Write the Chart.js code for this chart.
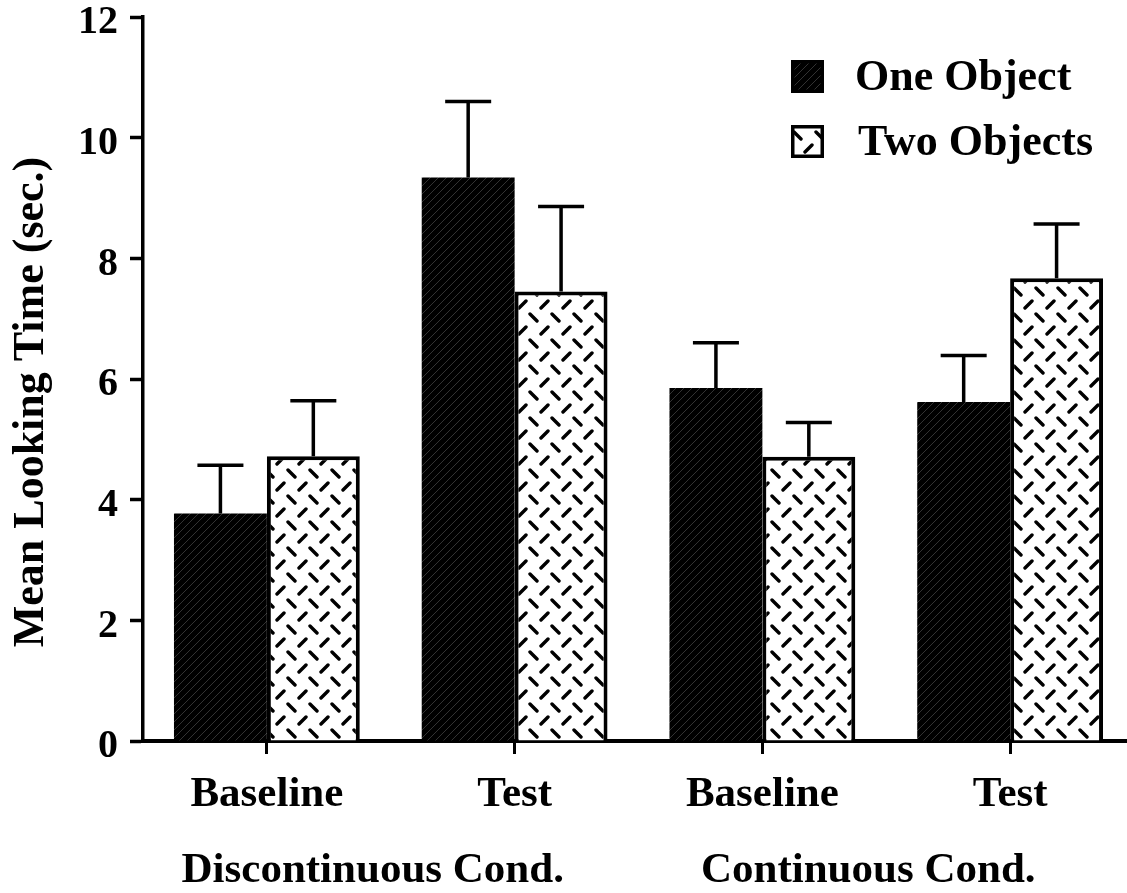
<!DOCTYPE html>
<html>
<head>
<meta charset="utf-8">
<script src="https://cdn.jsdelivr.net/npm/chart.js@4.4.0/dist/chart.umd.min.js"></script>
<style>
  html, body { margin: 0; padding: 0; background: #fff; overflow: hidden; }
  #wrap { width: 1140px; height: 893px; }
</style>
</head>
<body>
<div id="wrap"><canvas id="lookingChart" width="1140" height="893"></canvas></div>
<script>
// Data
const categories = ['Baseline', 'Test', 'Baseline', 'Test'];
const groupLabels = ['Discontinuous Cond.', 'Continuous Cond.'];
const oneObject = [3.77, 9.34, 5.85, 5.62];
const twoObjects = [4.72, 7.45, 4.71, 7.67];
// upper standard error (drawn above each bar)
const oneObjectErr = [0.80, 1.26, 0.75, 0.77];
const twoObjectsErr = [0.92, 1.41, 0.57, 0.90];
const yTicks = [0, 2, 4, 6, 8, 10, 12];

const serif = "'Liberation Serif', 'Times New Roman', serif";

// dark hatch used for the "One Object" bars
function makeDarkHatch() {
  const c = document.createElement('canvas');
  c.width = 8; c.height = 8;
  const g = c.getContext('2d');
  g.fillStyle = '#000';
  g.fillRect(0, 0, 8, 8);
  g.strokeStyle = '#333';
  g.lineWidth = 1;
  g.beginPath();
  g.moveTo(0, 8); g.lineTo(8, 0);
  g.stroke();
  return g.createPattern(c, 'repeat');
}

// white fill with alternating short dashes for "Two Objects"
function makeDashPattern() {
  const c = document.createElement('canvas');
  c.width = 22; c.height = 26;
  const g = c.getContext('2d');
  g.fillStyle = '#fff';
  g.fillRect(0, 0, 22, 26);
  g.strokeStyle = '#000';
  g.lineWidth = 3.4;
  g.lineCap = 'round';
  g.beginPath();
  g.moveTo(2, 2); g.lineTo(9, 9);     // "\"
  g.moveTo(20, 15); g.lineTo(13, 22); // "/"
  g.stroke();
  return g.createPattern(c, 'repeat');
}

const darkHatch = makeDarkHatch();
const dashFill = makeDashPattern();

// error bars (upper half only, with a cap)
const errorBars = {
  id: 'errorBars',
  afterDatasetsDraw(chart) {
    const ctx = chart.ctx;
    const y = chart.scales.y;
    ctx.save();
    ctx.strokeStyle = '#000';
    ctx.lineWidth = 3.5;
    chart.data.datasets.forEach((ds, i) => {
      const meta = chart.getDatasetMeta(i);
      meta.data.forEach((bar, j) => {
        const top = y.getPixelForValue(ds.data[j]);
        const end = y.getPixelForValue(ds.data[j] + ds.errors[j]);
        const half = 23;
        ctx.beginPath();
        ctx.moveTo(bar.x, top);
        ctx.lineTo(bar.x, end);
        ctx.moveTo(bar.x - half, end);
        ctx.lineTo(bar.x + half, end);
        ctx.stroke();
      });
    });
    ctx.restore();
  }
};

// legend in the upper right, y title and the condition labels
const extraText = {
  id: 'extraText',
  afterDraw(chart) {
    const ctx = chart.ctx;
    const x = chart.scales.x;
    ctx.save();
    ctx.fillStyle = '#000';

    // condition labels under pairs of categories
    ctx.font = 'bold 43px ' + serif;
    ctx.textAlign = 'center';
    ctx.textBaseline = 'alphabetic';
    groupLabels.forEach((label, k) => {
      const mid = (x.getPixelForValue(k * 2) + x.getPixelForValue(k * 2 + 1)) / 2;
      ctx.fillText(label, mid - 18, 882);
    });

    // y axis title
    ctx.save();
    ctx.font = 'bold 44px ' + serif;
    ctx.translate(32, 402);
    ctx.rotate(-Math.PI / 2);
    ctx.textBaseline = 'middle';
    ctx.fillText('Mean Looking Time (sec.)', 0, 0);
    ctx.restore();

    // legend
    ctx.font = 'bold 44px ' + serif;
    ctx.textAlign = 'left';
    ctx.textBaseline = 'middle';
    chart.data.datasets.forEach((ds, i) => {
      const bx = 791, by = 60 + i * 65, s = 33;
      ctx.fillStyle = ds.backgroundColor;
      ctx.fillRect(bx, by, s, s);
      ctx.strokeStyle = '#000';
      ctx.lineWidth = 3.5;
      ctx.strokeRect(bx + 1.75, by + 1.75, s - 3.5, s - 3.5);
      ctx.fillStyle = '#000';
      ctx.fillText(ds.label, 855 + i * 3, by + s / 2 + 2);
    });
    ctx.restore();
  }
};

new Chart(document.getElementById('lookingChart'), {
  type: 'bar',
  data: {
    labels: categories,
    datasets: [
      {
        label: 'One Object',
        data: oneObject,
        errors: oneObjectErr,
        backgroundColor: darkHatch,
        borderColor: '#000',
        borderWidth: 0
      },
      {
        label: 'Two Objects',
        data: twoObjects,
        errors: twoObjectsErr,
        backgroundColor: dashFill,
        borderColor: '#000',
        borderWidth: 4
      }
    ]
  },
  options: {
    responsive: false,
    animation: false,
    barPercentage: 1.0,
    categoryPercentage: 0.75,
    layout: { padding: { top: 17, right: 6, left: 0, bottom: 0 } },
    plugins: {
      legend: { display: false },
      tooltip: { enabled: false }
    },
    scales: {
      x: {
        afterFit(scale) {
          scale.height = 152;
          scale.paddingLeft = 0;
          scale.paddingRight = 0;
        },
        grid: {
          offset: false,
          drawOnChartArea: false,
          drawTicks: true,
          tickLength: 13,
          tickWidth: 3,
          tickColor: '#000'
        },
        border: { display: true, color: '#000', width: 4 },
        ticks: {
          color: '#000',
          padding: 15,
          font: { family: serif, size: 43, weight: 'bold' }
        }
      },
      y: {
        min: 0,
        max: 12,
        afterFit(scale) {
          scale.width = 143;
          scale.paddingTop = 0;
          scale.paddingBottom = 0;
        },
        afterBuildTicks(scale) { scale.ticks = yTicks.map(v => ({ value: v })); },
        grid: {
          drawOnChartArea: false,
          drawTicks: true,
          tickLength: 13,
          tickWidth: 3.5,
          tickColor: '#000'
        },
        border: { display: true, color: '#000', width: 3.5 },
        ticks: {
          color: '#000',
          padding: 12,
          labelOffset: 6,
          font: { family: serif, size: 40, weight: 'bold' }
        }
      }
    }
  },
  plugins: [errorBars, extraText]
});
</script>
</body>
</html>
